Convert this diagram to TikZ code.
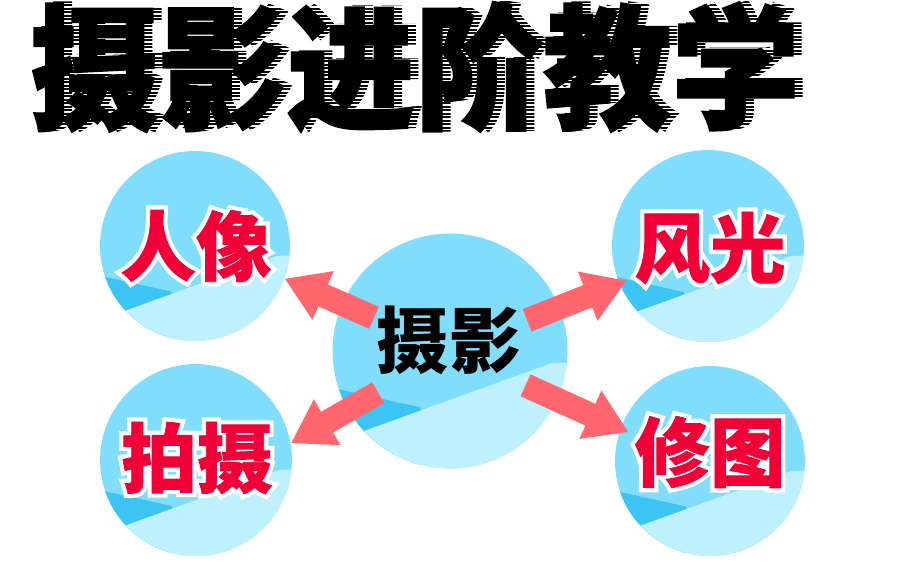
\documentclass[tikz,border=0pt]{standalone}
\usepackage{fontspec}
\usepackage{tikz}
\usetikzlibrary{arrows.meta}
\newfontfamily\cjk{Noto Sans CJK SC}
\newfontfamily\cjkred{Noto Sans CJK SC}[BoldFeatures={FakeBold=1}]
\newfontfamily\cjkhalo{Noto Sans CJK SC}[BoldFeatures={FakeBold=12}]
\newfontfamily\cjkheavy{Noto Sans CJK SC}[BoldFeatures={FakeBold=1.5}]
\definecolor{discblue}{RGB}{128,222,252}
\definecolor{disclight}{RGB}{190,240,253}
\definecolor{discdark}{RGB}{60,196,243}
\definecolor{arrowred}{RGB}{255,102,110}
\definecolor{tagred}{RGB}{240,0,55}
\newcommand\haloed[1]{\rlap{\color{white}\cjkhalo\bfseries #1}#1}

\begin{document}
\begin{tikzpicture}[x=0.02cm, y=-0.02cm,
  disc/.style={circle, fill=discblue, inner sep=0pt},
  bigarrow/.style={-{Triangle[length=0.84cm,width=1.0cm]}, line width=0.48cm, arrowred, shorten <=1.66cm},
  tag/.style={text=tagred, font=\cjkred\bfseries\fontsize{43}{43}\selectfont},
  headline/.style={font=\cjkheavy\bfseries\fontsize{73}{73}\selectfont, yscale=1.05}]
\useasboundingbox (0,0) rectangle (900,564);

% title, shadow striped by white lines
\node[headline] (titleshade) at (423,66) {摄影进阶教学};
\foreach \s in {0,3.5,...,140}
  \draw[white, line width=0.035cm] (0,\s) -- (900,\s);
\node[headline] (title) at (415,67) {摄影进阶教学};

% discs with the wave at the bottom
\foreach \n/\x/\y/\r in {photo/450/351/117.5, portrait/195/246/95, landscape/708/246/96, shoot/196/460/96, retouch/710/461/95}{
  \node[disc, minimum size=\r*0.04cm] (\n) at (\x,\y) {};
  \begin{scope}[shift={(\x,\y)}, scale=\r]
    \clip (0,0) circle (1);
    \fill[discdark] (-1.2,0.27) -- (-0.25,0.48) -- (-0.25,1.2) -- (-1.2,1.2) -- cycle;
    \fill[disclight] (-1.2,0.85) -- (0.86,0.105) -- (1.2,0.09) -- (1.2,1.2) -- (-1.2,1.2) -- cycle;
  \end{scope}
}

% arrows out of the middle
\draw[bigarrow] (photo.center) -- (portrait.-20);
\draw[bigarrow, shorten >=-0.16cm] (photo.center) -- (landscape.203);
\draw[bigarrow] (photo.center) -- (shoot.10);
\draw[bigarrow, shorten >=-0.18cm] (photo.center) -- (retouch.160);

% labels
\node[tag] (portraittext) at (196,246) {\haloed{人像}};
\node[tag] (landscapetext) at (710,248) {\haloed{风光}};
\node[tag] (shoottext) at (197,458) {\haloed{拍摄}};
\node[tag] (retouchtext) at (710,452) {\haloed{修图}};
\node[font=\cjk\bfseries\fontsize{41}{41}\selectfont] (phototext) at (449,340) {摄影};
\end{tikzpicture}
\end{document}
